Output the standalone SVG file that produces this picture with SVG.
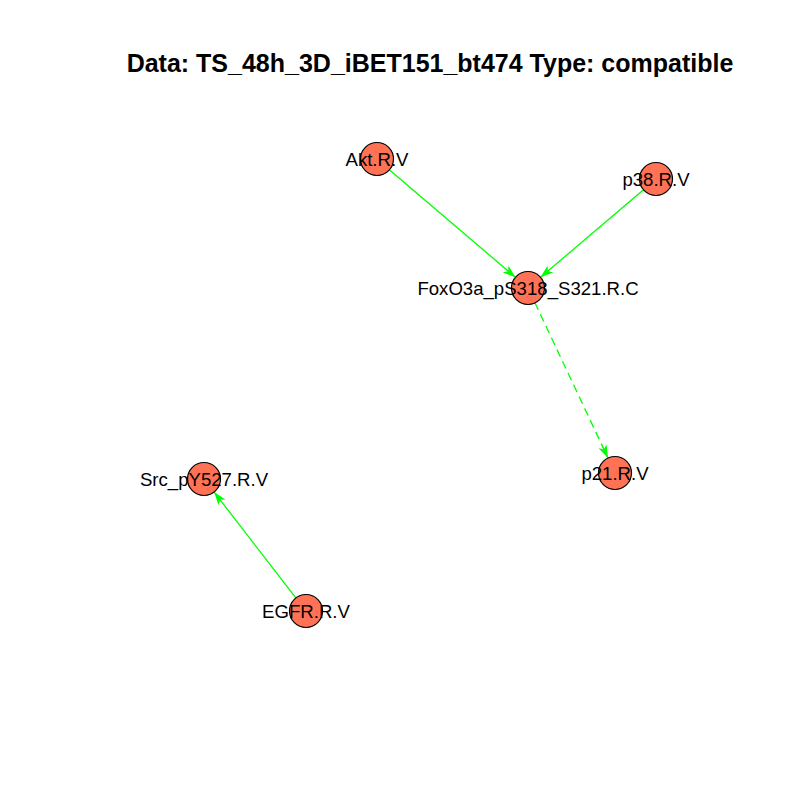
<svg xmlns="http://www.w3.org/2000/svg" width="800" height="800" viewBox="0 0 800 800">
  <style>
    .node circle { fill: #FF7256; stroke: #000000; stroke-width: 1.2; }
    .node text { font-family: "Liberation Sans", Arial, sans-serif; font-size: 18.6px; fill: #000000; text-anchor: middle; }
    .edge { stroke: #00FF00; stroke-width: 1.3; fill: none; marker-end: url(#arrow); }
    .dashed { stroke-dasharray: 8 5; }
    .title { font-family: "Liberation Sans", Arial, sans-serif; font-size: 25px; font-weight: bold; text-anchor: middle; }
  </style>
  <defs>
    <!-- filled arrowhead with a notched back, tip at the node boundary -->
    <marker id="arrow" viewBox="0 0 13 9" refX="13" refY="4.5" markerWidth="13" markerHeight="9" markerUnits="userSpaceOnUse" orient="auto">
      <path d="M0,0 L13,4.5 L0,9 L3.5,4.5 Z" fill="#00FF00"/>
    </marker>
  </defs>
  <rect width="800" height="800" fill="#FFFFFF"/>
  <text class="title" x="430" y="72">Data: TS_48h_3D_iBET151_bt474 Type: compatible</text>

  <g id="edges">
    <line class="edge" x1="389" y1="169.4" x2="515.4" y2="277.3"/>
    <line class="edge" x1="643.8" y1="189.4" x2="540.6" y2="277.3"/>
    <line class="edge dashed" x1="534.8" y1="302.5" x2="608" y2="458"/>
    <line class="edge" x1="296.2" y1="598.3" x2="214.1" y2="492.1"/>
  </g>

  <g id="node-akt" class="node">
    <circle cx="377" cy="159" r="16.5"/>
    <text x="377" y="165.5">Akt.R.V</text>
  </g>
  <g id="node-p38" class="node">
    <circle cx="656" cy="179" r="16.5"/>
    <text x="656" y="185.5">p38.R.V</text>
  </g>
  <g id="node-foxo3a" class="node">
    <circle cx="528" cy="288" r="16.5"/>
    <text x="528" y="294.5">FoxO3a_pS318_S321.R.C</text>
  </g>
  <g id="node-p21" class="node">
    <circle cx="615" cy="473" r="16.5"/>
    <text x="615" y="479.5">p21.R.V</text>
  </g>
  <g id="node-src" class="node">
    <circle cx="204" cy="479" r="16.5"/>
    <text x="204" y="485.5">Src_pY527.R.V</text>
  </g>
  <g id="node-egfr" class="node">
    <circle cx="306" cy="611" r="16.5"/>
    <text x="306" y="617.5">EGFR.R.V</text>
  </g>
</svg>
